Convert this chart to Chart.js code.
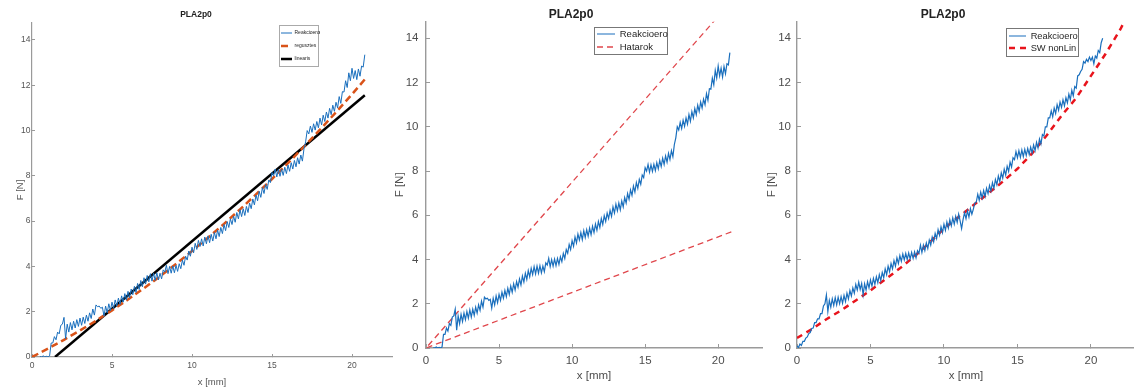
<!DOCTYPE html>
<html>
<head>
<meta charset="utf-8">
<script src="https://cdn.jsdelivr.net/npm/chart.js@4.4.0/dist/chart.umd.min.js"></script>
<style>
  html, body { margin: 0; padding: 0; background: #fff; overflow: hidden; }
  body { position: relative; width: 1134px; height: 389px; }
  canvas { position: absolute; top: 0; }
  #fig1 { left: 0; filter: blur(0.5px); }
  #fig2 { left: 380px; }
  #fig3 { left: 751px; }
</style>
</head>
<body>
<canvas id="fig1" width="424" height="389"></canvas>
<canvas id="fig2" width="428" height="389"></canvas>
<canvas id="fig3" width="430" height="389"></canvas>
<script>
const xTicks = [0, 5, 10, 15, 20];
const yTicks = [0, 2, 4, 6, 8, 10, 12, 14];

// measured reaction force, run used in the first two plots
const reakX = [
  0.5, 0.6, 0.7, 0.8, 0.9,
  1.0, 1.1, 1.2, 1.3, 1.4, 1.5, 1.6, 1.7, 1.8, 1.9,
  2.0, 2.1, 2.2, 2.3, 2.4, 2.5, 2.6, 2.7, 2.8, 2.9,
  3.0, 3.1, 3.2, 3.3, 3.4, 3.5, 3.6, 3.7, 3.8, 3.9,
  4.0, 4.1, 4.2, 4.3, 4.4, 4.5, 4.6, 4.7, 4.8, 4.9,
  5.0, 5.1, 5.2, 5.3, 5.4, 5.5, 5.6, 5.7, 5.8, 5.9,
  6.0, 6.1, 6.2, 6.3, 6.4, 6.5, 6.6, 6.7, 6.8, 6.9,
  7.0, 7.1, 7.2, 7.3, 7.4, 7.5, 7.6, 7.7, 7.8, 7.9,
  8.0, 8.1, 8.2, 8.3, 8.4, 8.5, 8.6, 8.7, 8.8, 8.9,
  9.0, 9.1, 9.2, 9.3, 9.4, 9.5, 9.6, 9.7, 9.8, 9.9,
  10.0, 10.1, 10.2, 10.3, 10.4, 10.5, 10.6, 10.7, 10.8, 10.9,
  11.0, 11.1, 11.2, 11.3, 11.4, 11.5, 11.6, 11.7, 11.8, 11.9,
  12.0, 12.1, 12.2, 12.3, 12.4, 12.5, 12.6, 12.7, 12.8, 12.9,
  13.0, 13.1, 13.2, 13.3, 13.4, 13.5, 13.6, 13.7, 13.8, 13.9,
  14.0, 14.1, 14.2, 14.3, 14.4, 14.5, 14.6, 14.7, 14.8, 14.9,
  15.0, 15.1, 15.2, 15.3, 15.4, 15.5, 15.6, 15.7, 15.8, 15.9,
  16.0, 16.1, 16.2, 16.3, 16.4, 16.5, 16.6, 16.7, 16.8, 16.9,
  17.0, 17.1, 17.2, 17.3, 17.4, 17.5, 17.6, 17.7, 17.8, 17.9,
  18.0, 18.1, 18.2, 18.3, 18.4, 18.5, 18.6, 18.7, 18.8, 18.9,
  19.0, 19.1, 19.2, 19.3, 19.4, 19.5, 19.6, 19.7, 19.8, 19.9,
  20.0, 20.1, 20.2, 20.3, 20.4, 20.5, 20.6, 20.7, 20.8
];
const reakY = [
  0.02, 0.0, 0.05, 0.0, 0.03,
  0.0, 0.05, 0.62, 0.62, 0.9, 0.76, 1.1, 1.02, 1.4, 1.45,
  1.75, 0.8, 1.45, 1.1, 1.52, 1.2, 1.58, 1.28, 1.65, 1.35,
  1.72, 1.4, 1.76, 1.48, 1.85, 1.58, 1.95, 1.7, 2.12, 1.85,
  2.3, 2.22, 2.25, 2.15, 2.2, 1.8, 2.25, 1.95, 2.35, 2.05,
  2.42, 2.15, 2.52, 2.25, 2.6, 2.32, 2.7, 2.42, 2.8, 2.52,
  2.9, 2.62, 3.0, 2.75, 3.12, 2.85, 3.25, 2.98, 3.38, 3.1,
  3.5, 3.22, 3.6, 3.32, 3.68, 3.35, 3.7, 3.38, 3.72, 3.4,
  3.7, 3.45, 3.85, 3.75, 4.05, 3.68, 4.0, 3.7, 4.02, 3.72,
  4.05, 3.78, 4.12, 3.9, 4.28, 4.05, 4.45, 4.28, 4.68, 4.45,
  4.85, 4.6, 5.02, 4.75, 5.15, 4.88, 5.22, 4.9, 5.3, 5.0,
  5.35, 5.05, 5.42, 5.12, 5.5, 5.22, 5.6, 5.32, 5.72, 5.45,
  5.85, 5.58, 5.98, 5.72, 6.1, 5.85, 6.22, 5.95, 6.38, 6.1,
  6.5, 6.2, 6.55, 6.25, 6.65, 6.38, 6.8, 6.55, 6.98, 6.72,
  7.15, 6.9, 7.32, 7.05, 7.48, 7.22, 7.62, 7.4, 7.82, 7.7,
  8.15, 8.0, 8.3, 7.95, 8.28, 7.98, 8.3, 8.02, 8.38, 8.1,
  8.48, 8.2, 8.58, 8.3, 8.68, 8.4, 8.8, 8.52, 8.92, 8.65,
  9.2, 9.5, 10.0, 9.85, 10.2, 9.92, 10.3, 10.02, 10.4, 10.12,
  10.55, 10.25, 10.68, 10.4, 10.82, 10.55, 10.98, 10.7, 11.12, 10.85,
  11.25, 11.0, 11.5, 11.2, 11.72, 11.7, 12.2, 11.9, 12.55, 12.2,
  12.75, 12.3, 12.65, 12.25, 12.72, 12.4, 12.85, 12.8, 13.35
];

// second run, shown against the nonlinear model
const reak2X = [
  0.0, 0.1, 0.2, 0.3, 0.4, 0.5, 0.6, 0.7, 0.8, 0.9,
  1.0, 1.1, 1.2, 1.3, 1.4, 1.5, 1.6, 1.7, 1.8, 1.9,
  2.0, 2.1, 2.2, 2.3, 2.4, 2.5, 2.6, 2.7, 2.8, 2.9,
  3.0, 3.1, 3.2, 3.3, 3.4, 3.5, 3.6, 3.7, 3.8, 3.9,
  4.0, 4.1, 4.2, 4.3, 4.4, 4.5, 4.6, 4.7, 4.8, 4.9,
  5.0, 5.1, 5.2, 5.3, 5.4, 5.5, 5.6, 5.7, 5.8, 5.9,
  6.0, 6.1, 6.2, 6.3, 6.4, 6.5, 6.6, 6.7, 6.8, 6.9,
  7.0, 7.1, 7.2, 7.3, 7.4, 7.5, 7.6, 7.7, 7.8, 7.9,
  8.0, 8.1, 8.2, 8.3, 8.4, 8.5, 8.6, 8.7, 8.8, 8.9,
  9.0, 9.1, 9.2, 9.3, 9.4, 9.5, 9.6, 9.7, 9.8, 9.9,
  10.0, 10.1, 10.2, 10.3, 10.4, 10.5, 10.6, 10.7, 10.8, 10.9,
  11.0, 11.1, 11.2, 11.3, 11.4, 11.5, 11.6, 11.7, 11.8, 11.9,
  12.0, 12.1, 12.2, 12.3, 12.4, 12.5, 12.6, 12.7, 12.8, 12.9,
  13.0, 13.1, 13.2, 13.3, 13.4, 13.5, 13.6, 13.7, 13.8, 13.9,
  14.0, 14.1, 14.2, 14.3, 14.4, 14.5, 14.6, 14.7, 14.8, 14.9,
  15.0, 15.1, 15.2, 15.3, 15.4, 15.5, 15.6, 15.7, 15.8, 15.9,
  16.0, 16.1, 16.2, 16.3, 16.4, 16.5, 16.6, 16.7, 16.8, 16.9,
  17.0, 17.1, 17.2, 17.3, 17.4, 17.5, 17.6, 17.7, 17.8, 17.9,
  18.0, 18.1, 18.2, 18.3, 18.4, 18.5, 18.6, 18.7, 18.8, 18.9,
  19.0, 19.1, 19.2, 19.3, 19.4, 19.5, 19.6, 19.7, 19.8, 19.9,
  20.0, 20.1, 20.2, 20.3, 20.4, 20.5, 20.6, 20.7, 20.8
];
const reak2Y = [
  0.1, 0.02, 0.18, 0.12, 0.3, 0.3, 0.45, 0.5, 0.65, 0.7,
  0.88, 0.9, 1.15, 1.15, 1.32, 1.32, 1.55, 1.55, 1.9, 2.0,
  2.4, 1.65, 2.15, 1.85, 2.22, 1.92, 2.28, 1.95, 2.3, 2.0,
  2.32, 2.02, 2.38, 2.1, 2.48, 2.22, 2.6, 2.35, 2.72, 2.48,
  2.88, 2.62, 2.98, 2.65, 2.92, 2.4, 2.9, 2.62, 3.0, 2.72,
  3.08, 2.8, 3.15, 2.88, 3.22, 2.95, 3.32, 3.05, 3.42, 3.18,
  3.58, 3.32, 3.7, 3.45, 3.82, 3.58, 3.95, 3.7, 4.08, 3.82,
  4.18, 3.92, 4.25, 3.98, 4.28, 4.0, 4.3, 4.02, 4.32, 4.05,
  4.35, 4.08, 4.4, 4.28, 4.65, 4.32, 4.65, 4.4, 4.75, 4.5,
  4.88, 4.65, 5.02, 4.8, 5.18, 4.95, 5.35, 5.1, 5.48, 5.22,
  5.6, 5.32, 5.7, 5.42, 5.8, 5.52, 5.88, 5.6, 5.95, 5.68,
  6.05, 5.75, 5.4, 5.8, 6.12, 5.85, 6.2, 5.92, 6.3, 6.05,
  6.28, 6.55, 6.6, 6.95, 6.68, 7.05, 6.78, 7.12, 6.85, 7.22,
  6.98, 7.35, 7.1, 7.48, 7.22, 7.62, 7.38, 7.78, 7.52, 7.92,
  7.68, 8.08, 7.82, 8.22, 7.98, 8.4, 8.18, 8.6, 8.52, 8.88,
  8.6, 8.92, 8.62, 8.95, 8.65, 8.98, 8.7, 9.02, 8.75, 9.08,
  8.82, 9.18, 8.92, 9.3, 9.05, 9.45, 9.22, 9.65, 9.58, 10.0,
  10.0, 10.4, 10.4, 10.72, 10.45, 10.85, 10.6, 11.0, 10.75, 11.12,
  10.88, 11.22, 10.95, 11.32, 11.08, 11.48, 11.22, 11.65, 11.4, 11.82,
  11.75, 12.3, 12.35, 12.5, 12.6, 12.95, 12.88, 13.05, 12.95, 13.15,
  13.0, 13.15, 12.85, 13.2, 13.1, 13.45, 13.35, 13.8, 14.0
];

// fitted curve and straight line (first plot)
const illX = [0, 1, 2, 3, 4, 5, 6, 7, 8, 9, 10, 11, 12, 13, 14, 15, 16, 17, 18, 19, 20, 20.8];
const illY = [0, 0.37, 0.76, 1.17, 1.6, 2.06, 2.54, 3.04, 3.56, 4.11, 4.68, 5.27, 5.88, 6.52, 7.18, 7.86, 8.56, 9.29, 10.04, 10.81, 11.6, 12.26];
const linX = [1.44, 20.8];
const linY = [0, 11.56];

// upper and lower bounds, drawn as one polyline through the origin
const hatarX = [20.9, 0, 19.75];
const hatarY = [5.25, 0, 14.8];

// SolidWorks nonlinear result
const swX = [0, 1, 2, 3, 4, 5, 6, 7, 8, 9, 10, 11, 12, 13, 14, 15, 16, 17, 18, 19, 20, 21, 22, 22.3];
const swY = [0.45, 0.85, 1.3, 1.7, 2.15, 2.6, 3.1, 3.6, 4.15, 4.75, 5.4, 5.92, 6.45, 6.98, 7.52, 8.1, 8.8, 9.62, 10.5, 11.3, 12.3, 13.3, 14.4, 14.8];

const pts = (xs, ys) => xs.map((x, i) => ({x: x, y: ys[i]}));

// legend sits in a framed box above the curves
const legendBox = {
  id: 'legendBox',
  afterUpdate(chart, args, opts) {
    const lg = chart.legend;
    lg.left = opts.left;
    lg.top = opts.top;
    lg.right = lg.left + lg.width;
    lg.bottom = lg.top + 60;
  },
  afterDatasetsDraw(chart, args, opts) {
    const ctx = chart.ctx;
    const b = opts.frame;
    ctx.save();
    ctx.fillStyle = '#fff';
    ctx.fillRect(b[0], b[1], b[2], b[3]);
    ctx.strokeStyle = opts.color;
    ctx.lineWidth = 1;
    ctx.strokeRect(b[0] + 0.5, b[1] + 0.5, b[2], b[3]);
    ctx.restore();
    chart.legend.draw();
  }
};

// legend samples keep the dataset's dash and width
function lineLabels(chart) {
  return Chart.defaults.plugins.legend.labels.generateLabels(chart).map(item => {
    const ds = chart.data.datasets[item.datasetIndex];
    item.lineDash = ds.borderDash || [];
    item.lineWidth = ds.borderWidth;
    item.strokeStyle = ds.borderColor;
    return item;
  });
}

function axes(c) {
  const grid = { drawOnChartArea: false, tickLength: -c.tl, color: c.axis, lineWidth: 1 };
  return {
    x: {
      type: 'linear', min: 0, max: c.xMax,
      afterBuildTicks: s => { s.ticks = xTicks.map(v => ({value: v})); },
      afterFit: s => { s.height = 389 - c.bottom; },
      grid: grid,
      border: { color: c.axis, width: c.bw },
      ticks: { font: c.tickFont, color: c.text, padding: c.xpad, maxRotation: 0 },
      title: { display: true, text: 'x [mm]', font: c.labelFont, color: c.text, padding: {top: 0, bottom: c.xtb} }
    },
    y: {
      type: 'linear', min: 0, max: 14.75,
      afterBuildTicks: s => { s.ticks = yTicks.map(v => ({value: v})); },
      afterFit: s => { s.width = c.yw; },
      grid: grid,
      border: { color: c.axis, width: c.bw },
      ticks: { font: c.tickFont, color: c.text, padding: c.ypad },
      title: { display: true, text: 'F [N]', font: c.labelFont, color: c.text, padding: {top: c.ytt, bottom: 0} }
    }
  };
}

function makeChart(id, datasets, c) {
  return new Chart(document.getElementById(id), {
    type: 'scatter',
    data: { datasets: datasets },
    options: {
      responsive: false,
      animation: false,
      devicePixelRatio: 1,
      layout: { padding: { left: 0, right: c.yw, top: 0, bottom: 0 } },
      elements: { point: { radius: 0 }, line: { tension: 0 } },
      scales: axes(c),
      plugins: {
        title: { display: true, text: 'PLA2p0', font: c.titleFont, color: '#222', padding: c.titlePad },
        legend: {
          position: 'chartArea', fullSize: false, align: 'start',
          labels: {
            usePointStyle: true, pointStyle: 'line', pointStyleWidth: c.lgLine,
            font: c.lgFont, color: '#262626', padding: c.lgPad,
            generateLabels: lineLabels
          }
        },
        tooltip: { enabled: false },
        legendBox: c.legend
      }
    },
    plugins: [legendBox]
  });
}

const blue = '#1a6fbd';
const sans = "'Liberation Sans', Arial, sans-serif";

makeChart('fig1', [
  { label: 'Reakcioero', data: pts(reakX, reakY), showLine: true, borderColor: blue, borderWidth: 1 },
  { label: 'regusztes', data: pts(illX, illY), showLine: true, borderColor: '#D95319', borderWidth: 2.5, borderDash: [7, 4] },
  { label: 'linearis', data: pts(linX, linY), showLine: true, borderColor: '#000', borderWidth: 2.5 }
], {
  xMax: 22.5, yw: 32, bottom: 357, tl: 3, bw: 1.2, axis: '#9a9a9a', text: '#555',
  tickFont: { family: sans, size: 8.5 }, labelFont: { family: sans, size: 9.5 },
  titleFont: { family: sans, size: 8.5, weight: 'bold', lineHeight: 1 },
  titlePad: { top: 10.75, bottom: 3.75 },
  xpad: 6.5, xtb: 1.3, ypad: 4.5, ytt: 14.3,
  lgFont: { family: sans, size: 5 }, lgPad: 8, lgLine: 11,
  legend: { left: 273, top: 22.5, frame: [279, 25, 39, 41], color: '#aaa' }
});

makeChart('fig2', [
  { label: 'Reakcioero', data: pts(reakX, reakY), showLine: true, borderColor: blue, borderWidth: 1.2 },
  { label: 'Hatarok', data: pts(hatarX, hatarY), showLine: true, borderColor: '#e0474c', borderWidth: 1.3, borderDash: [6, 4] }
], {
  xMax: 23, yw: 46, bottom: 348, tl: 4, bw: 1.4, axis: '#9a9a9a', text: '#4d4d4d',
  tickFont: { family: sans, size: 11.5 }, labelFont: { family: sans, size: 11.5 },
  titleFont: { family: sans, size: 12, weight: 'bold', lineHeight: 1 },
  titlePad: { top: 9, bottom: 0.7 },
  xpad: 10, xtb: 6, ypad: 11.5, ytt: 13,
  lgFont: { family: sans, size: 9.5 }, lgPad: 3.5, lgLine: 18,
  legend: { left: 213.5, top: 25.75, frame: [214, 27, 73, 27], color: '#777' }
});

makeChart('fig3', [
  { label: 'Reakcioero', data: pts(reak2X, reak2Y), showLine: true, borderColor: blue, borderWidth: 1.2 },
  { label: 'SW nonLin', data: pts(swX, swY), showLine: true, borderColor: '#e8141c', borderWidth: 2.5, borderDash: [6, 5] }
], {
  xMax: 23, yw: 46, bottom: 348, tl: 4, bw: 1.4, axis: '#9a9a9a', text: '#4d4d4d',
  tickFont: { family: sans, size: 11.5 }, labelFont: { family: sans, size: 11.5 },
  titleFont: { family: sans, size: 12, weight: 'bold', lineHeight: 1 },
  titlePad: { top: 9, bottom: 0.7 },
  xpad: 10, xtb: 6, ypad: 10, ytt: 14.4,
  lgFont: { family: sans, size: 9.3 }, lgPad: 2.7, lgLine: 17,
  legend: { left: 255.3, top: 28.65, frame: [255, 28, 72, 28], color: '#777' }
});
</script>
</body>
</html>
